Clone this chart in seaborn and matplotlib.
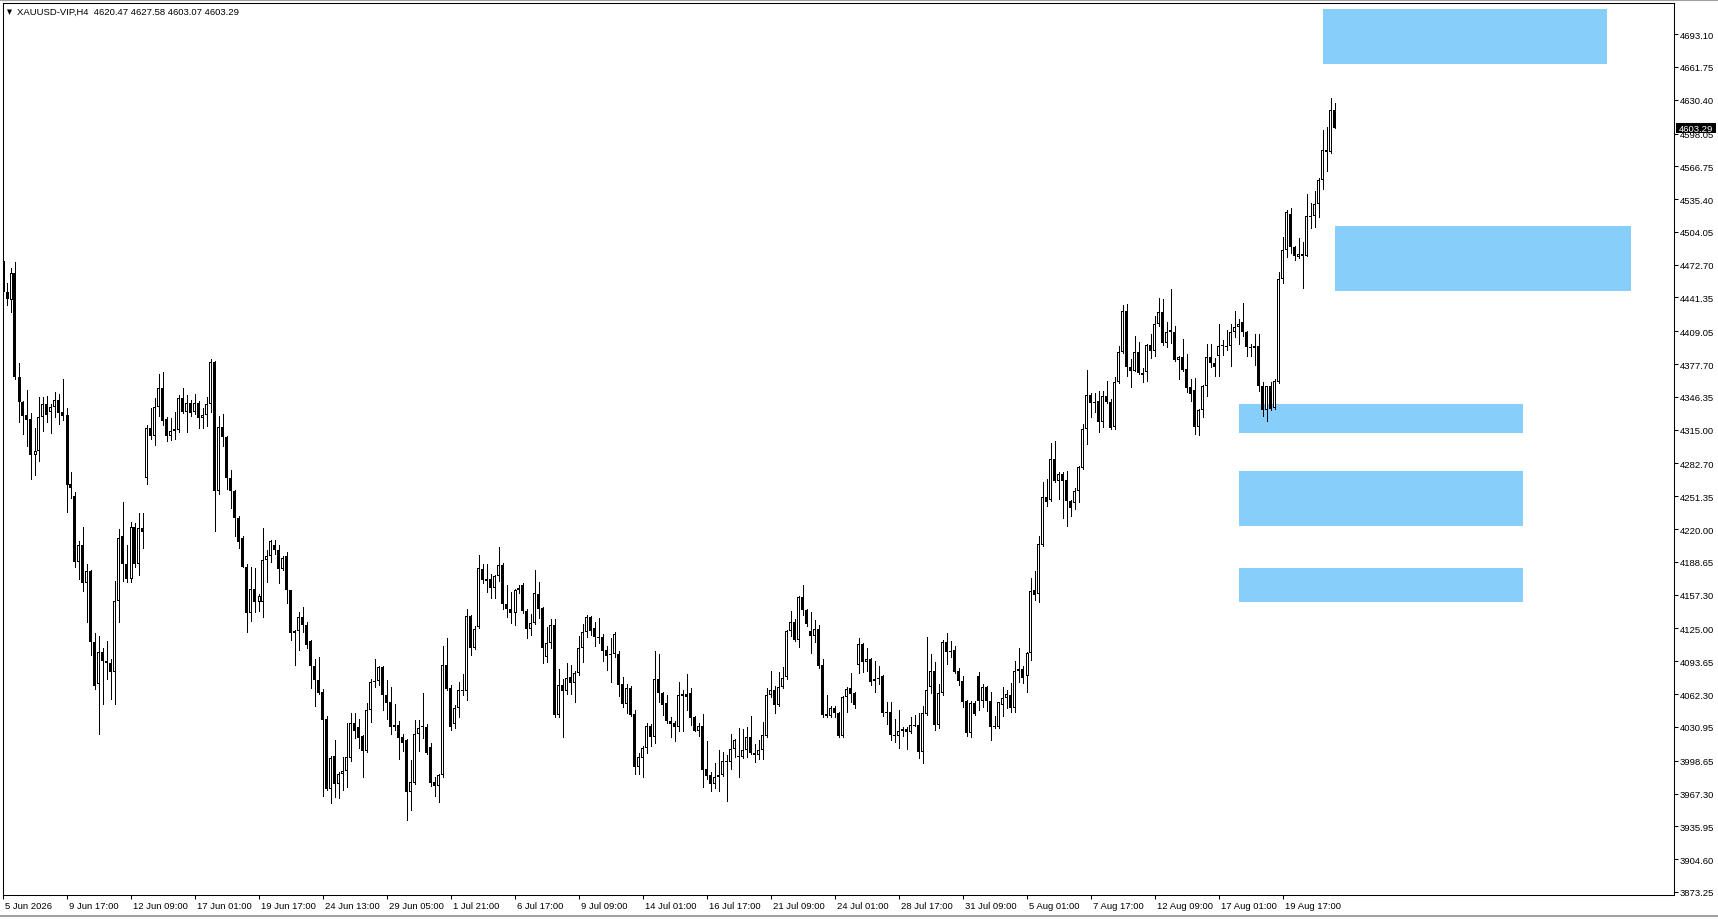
import matplotlib
matplotlib.use('Agg')
import matplotlib.pyplot as plt
import matplotlib.transforms as mtransforms
from matplotlib.patches import Rectangle
from matplotlib.lines import Line2D
import numpy as np
import pandas as pd
import seaborn as sns

# Chart header
symbol_title = 'XAUUSD-VIP,H4  4620.47 4627.58 4603.07 4603.29'
last_price = 4603.29

# H4 candles (one value per bar, oldest first)
opens = [
    4476.5, 4446.9, 4439.3, 4464.4, 4365.0, 4341.1, 4329.4, 4325.2, 4291.1, 4294.3,
    4326.8, 4339.6, 4332.2, 4336.4, 4343.4, 4332.2, 4329.0, 4263.1, 4251.3, 4188.2,
    4204.8, 4168.2, 4179.9, 4111.8, 4071.9, 4102.2, 4093.9, 4091.7, 4083.1, 4151.6,
    4213.1, 4186.6, 4172.3, 4221.7, 4186.6, 4220.7, 4268.5, 4316.3, 4309.3, 4336.4,
    4354.5, 4325.2, 4309.3, 4313.4, 4315.0, 4345.0, 4331.6, 4340.2, 4332.2, 4340.2,
    4325.9, 4329.0, 4339.6, 4379.4, 4256.7, 4317.3, 4307.7, 4268.5, 4256.1, 4230.3,
    4211.2, 4184.1, 4139.5, 4162.7, 4150.6, 4150.6, 4190.8, 4194.0, 4204.5, 4199.7,
    4182.2, 4194.0, 4161.5, 4122.6, 4122.3, 4136.0, 4128.0, 4112.7, 4088.8, 4075.4,
    4064.3, 4038.2, 3971.9, 4002.8, 3976.7, 3986.3, 3988.5, 4001.6, 4034.7, 4030.9,
    4021.9, 4007.6, 4046.8, 4073.5, 4074.5, 4088.2, 4061.1, 4054.7, 4033.1, 4033.1,
    4021.3, 4018.7, 3968.7, 3977.6, 4023.8, 4030.4, 4030.9, 4011.7, 3978.3, 3974.1,
    3984.7, 4089.8, 4068.1, 4034.0, 4049.3, 4066.5, 4064.9, 4137.0, 4106.7, 4126.4,
    4181.6, 4172.6, 4172.6, 4163.7, 4175.2, 4185.4, 4148.1, 4144.0, 4140.1, 4161.5,
    4166.3, 4141.4, 4124.2, 4130.6, 4158.3, 4144.5, 4097.4, 4110.8, 4128.3, 4042.3,
    4071.0, 4065.5, 4078.3, 4072.5, 4082.1, 4106.0, 4121.3, 4136.2, 4125.1, 4116.5,
    4116.5, 4104.4, 4100.6, 4100.6, 4100.6, 4071.9, 4052.8, 4068.1, 4043.2, 3992.9,
    4000.8, 4010.7, 4031.4, 4021.5, 4076.7, 4063.0, 4053.4, 4036.8, 4034.6, 4030.5,
    4062.3, 4062.3, 4063.3, 4040.0, 4027.3, 4032.1, 3990.6, 3984.9, 3976.3, 3982.7,
    3984.9, 3998.0, 3997.0, 4009.8, 4002.4, 4001.8, 4008.8, 4021.5, 4005.6, 4004.3,
    4008.8, 4022.5, 4061.4, 4066.2, 4052.1, 4068.7, 4078.9, 4122.2, 4130.8, 4114.3,
    4155.4, 4142.6, 4122.9, 4117.5, 4124.5, 4090.1, 4043.2, 4041.6, 4049.0, 4043.9,
    4022.5, 4059.2, 4068.1, 4063.3, 4090.4, 4110.2, 4092.6, 4095.8, 4074.5, 4076.7,
    4079.2, 4044.8, 4044.8, 4023.5, 4022.2, 4028.9, 4028.9, 4025.7, 4033.0, 4032.7,
    4007.2, 4043.2, 4068.7, 4084.0, 4033.0, 4063.0, 4112.4, 4103.1, 4104.4, 4084.0,
    4074.5, 4055.4, 4025.1, 4053.8, 4079.2, 4056.0, 4068.7, 4055.4, 4032.1, 4030.5,
    4052.2, 4058.2, 4061.7, 4049.0, 4084.0, 4086.3, 4079.2, 4101.5, 4161.8, 4157.9,
    4205.1, 4250.3, 4248.1, 4287.0, 4266.3, 4272.6, 4266.9, 4246.5, 4244.9, 4256.1,
    4278.0, 4315.6, 4348.1, 4341.8, 4342.1, 4322.0, 4346.9, 4341.1, 4317.2, 4360.3,
    4388.9, 4428.8, 4374.6, 4371.4, 4388.9, 4369.2, 4370.0, 4395.9, 4390.5, 4416.0,
    4427.2, 4397.5, 4410.3, 4408.0, 4381.6, 4384.1, 4373.0, 4355.5, 4352.9, 4317.9,
    4333.8, 4356.4, 4384.1, 4378.4, 4385.7, 4395.3, 4393.7, 4394.7, 4408.0, 4412.8,
    4417.6, 4408.0, 4393.7, 4392.7, 4394.7, 4357.1, 4334.1, 4356.4, 4335.4, 4360.9,
    4459.0, 4486.7, 4521.1, 4489.3, 4480.4, 4482.9, 4481.3, 4519.6, 4518.9, 4530.7,
    4553.6, 4582.3, 4580.1, 4620.47,
]
highs = [
    4481.3, 4454.9, 4469.5, 4474.9, 4378.4, 4342.7, 4352.9, 4331.0, 4316.6, 4345.9,
    4345.9, 4347.5, 4339.6, 4350.7, 4349.1, 4363.4, 4335.4, 4274.2, 4255.8, 4208.6,
    4221.7, 4186.6, 4180.9, 4120.7, 4117.5, 4106.0, 4113.3, 4095.8, 4170.7, 4220.1,
    4245.6, 4204.8, 4226.4, 4225.8, 4235.4, 4235.4, 4319.8, 4335.7, 4345.3, 4368.2,
    4370.5, 4326.8, 4326.2, 4332.2, 4348.5, 4354.5, 4348.5, 4343.4, 4349.1, 4342.7,
    4335.7, 4345.9, 4382.6, 4380.5, 4328.4, 4330.0, 4309.0, 4276.5, 4257.7, 4232.8,
    4213.7, 4186.6, 4183.4, 4182.5, 4158.0, 4220.7, 4200.0, 4209.9, 4209.3, 4205.0,
    4194.0, 4198.1, 4162.1, 4123.2, 4140.5, 4145.6, 4131.2, 4113.7, 4095.5, 4097.8,
    4067.5, 4041.1, 4002.8, 4018.7, 3987.8, 4002.2, 4034.7, 4044.6, 4044.6, 4038.8,
    4022.9, 4054.1, 4076.4, 4095.5, 4088.8, 4088.8, 4075.4, 4069.1, 4053.2, 4036.3,
    4023.8, 4019.7, 3999.0, 4037.2, 4037.2, 4063.4, 4033.4, 4015.6, 3983.1, 3985.6,
    4108.3, 4115.9, 4070.7, 4051.6, 4073.9, 4081.2, 4144.0, 4138.2, 4127.4, 4194.9,
    4187.0, 4187.0, 4177.4, 4175.8, 4203.0, 4187.9, 4166.3, 4159.9, 4163.1, 4166.3,
    4168.5, 4143.9, 4139.2, 4180.6, 4169.4, 4146.0, 4126.7, 4134.0, 4134.0, 4086.2,
    4076.7, 4091.9, 4090.0, 4084.6, 4117.5, 4129.2, 4138.2, 4137.0, 4130.8, 4135.0,
    4119.7, 4108.5, 4115.9, 4121.3, 4103.1, 4078.3, 4071.9, 4070.3, 4047.0, 4006.0,
    4012.9, 4034.3, 4033.7, 4103.1, 4100.6, 4064.0, 4061.7, 4040.0, 4036.8, 4073.5,
    4066.5, 4081.4, 4068.1, 4041.0, 4034.6, 4043.2, 4017.7, 3987.5, 3996.4, 4008.8,
    4006.6, 4004.0, 4024.1, 4019.3, 4029.5, 4028.9, 4030.5, 4041.6, 4014.5, 4018.4,
    4035.9, 4068.1, 4084.6, 4070.3, 4083.0, 4087.8, 4123.5, 4142.0, 4134.0, 4156.3,
    4166.5, 4144.0, 4141.1, 4133.1, 4128.3, 4095.8, 4061.4, 4051.2, 4051.2, 4044.8,
    4060.8, 4069.4, 4082.4, 4064.0, 4115.9, 4111.1, 4106.3, 4097.0, 4094.2, 4088.8,
    4080.5, 4054.4, 4055.0, 4038.5, 4047.1, 4031.1, 4030.5, 4040.1, 4042.6, 4044.2,
    4051.2, 4116.5, 4100.6, 4093.3, 4071.9, 4114.3, 4120.6, 4112.7, 4108.6, 4086.9,
    4079.2, 4056.6, 4055.4, 4056.0, 4083.7, 4071.9, 4070.3, 4063.9, 4041.0, 4055.0,
    4068.7, 4066.2, 4072.9, 4093.6, 4106.0, 4089.4, 4102.8, 4172.9, 4180.2, 4213.0,
    4265.3, 4267.9, 4302.3, 4304.5, 4274.2, 4274.2, 4275.2, 4248.1, 4258.9, 4280.6,
    4320.4, 4372.4, 4349.7, 4349.7, 4352.3, 4351.6, 4361.2, 4344.3, 4365.0, 4394.7,
    4434.2, 4435.1, 4382.6, 4404.2, 4398.5, 4374.0, 4396.9, 4406.5, 4423.3, 4440.9,
    4439.9, 4417.6, 4449.5, 4414.4, 4385.7, 4401.7, 4387.3, 4363.4, 4364.1, 4334.8,
    4358.0, 4396.9, 4396.9, 4383.5, 4416.0, 4400.7, 4410.6, 4416.0, 4428.1, 4420.8,
    4436.1, 4409.0, 4396.9, 4406.5, 4406.5, 4360.3, 4357.1, 4360.9, 4363.4, 4465.4,
    4498.8, 4525.0, 4526.9, 4490.9, 4498.2, 4494.7, 4540.3, 4531.7, 4543.4, 4555.6,
    4601.4, 4604.6, 4632.0, 4627.58,
]
lows = [
    4443.1, 4434.2, 4427.8, 4363.0, 4322.7, 4310.9, 4299.7, 4267.9, 4271.7, 4285.4,
    4314.1, 4322.7, 4311.8, 4326.8, 4320.4, 4324.6, 4236.0, 4249.4, 4183.4, 4172.3,
    4161.1, 4130.9, 4099.6, 4067.2, 4024.1, 4052.8, 4076.7, 4057.6, 4052.8, 4130.9,
    4170.7, 4169.1, 4169.7, 4183.4, 4176.1, 4201.6, 4263.1, 4306.1, 4300.7, 4328.4,
    4319.5, 4304.5, 4305.5, 4306.1, 4312.5, 4331.0, 4312.5, 4328.4, 4330.0, 4316.6,
    4316.6, 4318.8, 4332.2, 4218.5, 4253.5, 4299.7, 4258.3, 4239.8, 4213.7, 4201.6,
    4183.4, 4121.3, 4132.5, 4141.1, 4142.0, 4136.3, 4169.7, 4188.2, 4196.5, 4168.5,
    4181.2, 4149.4, 4114.3, 4090.4, 4104.8, 4121.7, 4106.4, 4068.5, 4050.6, 4062.5,
    3964.6, 3970.5, 3958.5, 3963.9, 3963.3, 3971.0, 3973.5, 3998.4, 4020.7, 4011.1,
    3983.1, 4007.0, 4035.6, 4069.1, 4070.7, 4047.4, 4038.8, 4024.5, 4028.3, 4000.6,
    4007.9, 3942.3, 3951.2, 3976.5, 4007.9, 4020.7, 4005.0, 3974.1, 3964.6, 3959.2,
    3983.1, 4066.5, 4028.3, 4029.9, 4040.4, 4061.1, 4057.0, 4100.0, 4105.7, 4125.0,
    4168.5, 4159.9, 4154.2, 4154.5, 4170.1, 4143.3, 4136.0, 4130.6, 4128.0, 4158.9,
    4140.0, 4116.2, 4119.1, 4129.5, 4135.4, 4091.6, 4093.2, 4106.0, 4040.7, 4040.0,
    4021.5, 4062.3, 4062.3, 4054.4, 4080.5, 4093.2, 4116.5, 4119.0, 4108.5, 4111.1,
    4094.2, 4085.3, 4073.5, 4097.4, 4060.7, 4050.2, 4043.9, 4041.6, 3985.9, 3985.9,
    3983.3, 4005.6, 4012.9, 4015.2, 4054.4, 4042.6, 4034.3, 4021.5, 4017.1, 4026.7,
    4026.7, 4047.4, 4032.7, 4026.7, 4022.5, 3973.1, 3981.1, 3969.3, 3972.2, 3969.9,
    3984.3, 3959.7, 3990.6, 4001.8, 3982.7, 4000.8, 4001.8, 4005.0, 3997.6, 4000.2,
    4000.2, 4021.5, 4059.1, 4043.9, 4051.2, 4067.8, 4076.7, 4118.1, 4113.0, 4106.9,
    4137.8, 4127.6, 4101.2, 4111.7, 4086.9, 4040.1, 4040.1, 4040.1, 4040.1, 4021.6,
    4021.5, 4044.8, 4055.0, 4048.7, 4082.4, 4083.7, 4084.7, 4071.0, 4064.6, 4071.9,
    4041.0, 4033.7, 4018.7, 4016.8, 4010.7, 4021.9, 4009.8, 4025.1, 4031.5, 4001.2,
    3996.1, 4042.3, 4063.0, 4028.3, 4029.9, 4061.7, 4091.0, 4098.0, 4082.4, 4071.3,
    4050.3, 4021.9, 4020.9, 4042.3, 4047.1, 4050.3, 4046.4, 4018.7, 4029.5, 4029.5,
    4041.7, 4048.7, 4045.5, 4045.5, 4074.2, 4072.9, 4064.6, 4095.2, 4152.5, 4150.0,
    4204.1, 4242.4, 4247.1, 4265.0, 4248.7, 4230.3, 4223.3, 4232.8, 4239.2, 4245.6,
    4277.0, 4301.3, 4326.8, 4331.6, 4313.1, 4317.2, 4340.2, 4315.5, 4316.0, 4359.3,
    4388.0, 4366.6, 4356.1, 4370.8, 4368.0, 4360.3, 4361.9, 4383.2, 4385.1, 4414.4,
    4396.3, 4393.7, 4397.5, 4380.3, 4363.4, 4370.8, 4350.7, 4342.7, 4310.9, 4310.2,
    4327.4, 4347.5, 4375.2, 4366.6, 4366.6, 4386.7, 4391.5, 4376.2, 4403.3, 4396.9,
    4404.2, 4385.7, 4385.7, 4377.1, 4351.7, 4328.4, 4323.6, 4333.8, 4334.8, 4359.3,
    4454.9, 4479.7, 4483.6, 4477.5, 4479.1, 4450.1, 4480.7, 4507.4, 4508.4, 4518.0,
    4545.0, 4562.6, 4579.4, 4603.07,
]
closes = [
    4446.3, 4439.9, 4464.4, 4365.0, 4341.1, 4327.8, 4324.6, 4291.1, 4294.9, 4326.8,
    4339.6, 4329.4, 4336.4, 4343.4, 4331.0, 4328.4, 4262.4, 4259.3, 4188.2, 4204.8,
    4168.2, 4179.9, 4111.8, 4070.3, 4102.2, 4094.2, 4091.7, 4083.1, 4151.6, 4211.5,
    4186.6, 4172.3, 4221.7, 4186.6, 4221.0, 4217.5, 4316.3, 4309.3, 4336.4, 4354.5,
    4323.6, 4308.6, 4313.4, 4315.7, 4345.3, 4331.6, 4340.2, 4331.0, 4340.2, 4325.9,
    4329.0, 4339.6, 4379.4, 4256.7, 4317.3, 4307.7, 4268.5, 4256.1, 4230.3, 4208.0,
    4184.1, 4139.5, 4162.7, 4150.6, 4156.4, 4190.8, 4194.0, 4208.3, 4199.7, 4182.2,
    4192.4, 4161.5, 4121.0, 4121.0, 4136.0, 4128.0, 4109.6, 4088.8, 4075.4, 4063.7,
    4037.9, 3971.9, 4001.2, 3976.7, 3986.3, 3988.5, 4002.2, 4034.7, 4026.7, 4020.7,
    4007.6, 4046.8, 4073.9, 4074.8, 4088.2, 4061.1, 4054.1, 4030.9, 4030.9, 4020.3,
    4015.6, 3968.7, 3978.3, 4023.8, 4029.9, 4030.9, 4006.3, 3977.6, 3974.1, 3984.7,
    4089.8, 4066.9, 4030.9, 4049.3, 4066.5, 4064.9, 4137.0, 4106.7, 4124.8, 4182.8,
    4171.0, 4170.4, 4163.7, 4175.2, 4185.4, 4148.1, 4143.3, 4140.1, 4161.5, 4164.0,
    4141.4, 4124.2, 4130.6, 4158.9, 4143.9, 4106.0, 4110.8, 4128.3, 4042.3, 4071.0,
    4065.5, 4077.3, 4072.5, 4082.1, 4106.0, 4121.3, 4136.2, 4122.9, 4116.5, 4115.9,
    4103.7, 4099.0, 4099.6, 4119.7, 4071.3, 4052.8, 4068.1, 4042.3, 3992.9, 4001.8,
    4010.7, 4031.4, 4021.5, 4076.7, 4063.0, 4052.1, 4036.8, 4033.7, 4030.5, 4061.4,
    4060.7, 4059.8, 4039.1, 4027.3, 4031.4, 3990.0, 3984.3, 3976.3, 3982.7, 3984.9,
    3998.0, 3997.0, 4009.8, 4018.4, 4001.8, 4008.8, 4021.5, 4005.6, 4004.3, 4008.8,
    4023.1, 4061.4, 4066.2, 4052.1, 4068.7, 4077.6, 4122.2, 4130.8, 4114.3, 4155.4,
    4142.6, 4129.2, 4117.5, 4124.5, 4089.5, 4042.3, 4041.6, 4049.0, 4043.9, 4022.5,
    4059.2, 4067.1, 4062.4, 4052.2, 4110.2, 4092.6, 4095.8, 4074.2, 4076.7, 4076.4,
    4044.2, 4044.2, 4023.5, 4022.2, 4027.3, 4027.3, 4025.7, 4032.7, 4032.1, 4006.6,
    4044.2, 4066.2, 4084.0, 4033.0, 4063.0, 4112.4, 4102.2, 4102.2, 4083.7, 4074.5,
    4055.0, 4025.1, 4053.8, 4043.2, 4056.0, 4068.7, 4055.4, 4031.1, 4030.5, 4054.4,
    4058.5, 4062.4, 4049.0, 4084.0, 4086.3, 4077.3, 4101.5, 4161.1, 4157.3, 4205.7,
    4250.3, 4245.6, 4287.0, 4266.3, 4272.6, 4266.3, 4246.5, 4239.8, 4256.1, 4279.0,
    4315.6, 4348.1, 4340.2, 4340.2, 4322.0, 4346.9, 4341.1, 4316.6, 4360.3, 4388.9,
    4428.8, 4374.6, 4371.4, 4388.9, 4368.9, 4367.6, 4395.9, 4390.5, 4416.0, 4427.2,
    4397.5, 4408.0, 4408.0, 4381.6, 4384.1, 4372.1, 4354.8, 4349.1, 4317.9, 4333.8,
    4356.4, 4384.1, 4378.4, 4375.2, 4395.3, 4394.7, 4394.7, 4408.0, 4412.8, 4416.0,
    4408.0, 4393.7, 4392.7, 4394.7, 4357.1, 4334.1, 4356.4, 4334.8, 4361.9, 4459.0,
    4486.7, 4523.4, 4489.3, 4480.7, 4482.6, 4480.7, 4518.9, 4517.9, 4530.7, 4553.6,
    4582.3, 4580.1, 4620.6, 4603.29,
]

# time axis labels (one every 16 bars)
time_labels = ['5 Jun 2026', '9 Jun 17:00', '12 Jun 09:00', '17 Jun 01:00', '19 Jun 17:00',
               '24 Jun 13:00', '29 Jun 05:00', '1 Jul 21:00', '6 Jul 17:00', '9 Jul 09:00',
               '14 Jul 01:00', '16 Jul 17:00', '21 Jul 09:00', '24 Jul 01:00', '28 Jul 17:00',
               '31 Jul 09:00', '5 Aug 01:00', '7 Aug 17:00', '12 Aug 09:00', '17 Aug 01:00',
               '19 Aug 17:00']
label_step = 16

# price scale labels
price_ticks = [4693.10, 4661.75, 4630.40, 4598.05, 4566.75, 4535.40, 4504.05, 4472.70,
               4441.35, 4409.05, 4377.70, 4346.35, 4315.00, 4282.70, 4251.35, 4220.00,
               4188.65, 4157.30, 4125.00, 4093.65, 4062.30, 4030.95, 3998.65, 3967.30,
               3935.95, 3904.60, 3873.25]

# supply / demand zones: first bar, last bar, top price, bottom price
zone_start = [330, 333, 309, 309, 309]
zone_end = [401, 407, 380, 380, 380]
zone_top = [4717.0, 4509.9, 4339.2, 4275.2, 4183.1]
zone_bottom = [4664.8, 4447.1, 4311.9, 4222.9, 4150.7]

W, H = 1718, 920
y_lo, y_hi = 3870.3, 4722.8
px = (y_hi - y_lo) / 892  # price units per screen pixel

df = pd.DataFrame({'open': opens, 'high': highs, 'low': lows, 'close': closes})
df['bar'] = np.arange(len(df))
df['up'] = df['close'] >= df['open']
df['body_lo'] = df[['open', 'close']].min(axis=1)
df['body_h'] = (df['close'] - df['open']).abs()

sns.set_style('white')
plt.rcParams['font.family'] = ['Liberation Sans', 'DejaVu Sans']

fig = plt.figure(figsize=(W / 100, H / 100), dpi=100)
ax = fig.add_axes([2.7 / W, 1 - 896 / H, (1674 - 2.7) / W, (896 - 4) / H])

# zones behind the candles
for s, e, t, b in zip(zone_start, zone_end, zone_top, zone_bottom):
    ax.add_patch(Rectangle((s, b), e - s, t - b, facecolor='#87CEFA', edgecolor='none',
                           zorder=1))

# wicks
ax.vlines(df['bar'], df['low'], df['high'], color='black', linewidth=0.72,
          antialiased=False, zorder=2)
# bodies: solid black block, then a white core for bullish bars
ax.bar(df['bar'], np.maximum(df['body_h'], px), bottom=df['body_lo'], width=0.75,
       color='black', linewidth=0, antialiased=False, zorder=3)
hollow = df[df['up'] & (df['body_h'] > 2 * px)]
ax.bar(hollow['bar'], hollow['body_h'] - 2 * px, bottom=hollow['body_lo'] + px,
       width=0.25, color='white', linewidth=0, antialiased=False, zorder=4)

ax.set_xlim(-0.075, 417.75)
ax.set_ylim(y_lo, y_hi)

for sp in ax.spines.values():
    sp.set_color('black')
    sp.set_linewidth(0.75)
    sp.set_visible(True)

ax.yaxis.tick_right()
ax.set_yticks(price_ticks)
ax.set_yticklabels([f'{v:.2f}' for v in price_ticks])
ax.set_xticks(np.arange(len(time_labels)) * label_step)
ax.set_xticklabels(time_labels)
ax.tick_params(axis='both', direction='out', length=2.9, width=0.75, colors='black',
               labelsize=6.8, labelcolor='black')
ax.tick_params(axis='y', pad=1.4, left=False, right=True)
ax.tick_params(axis='x', pad=1.2, bottom=True)
offset = mtransforms.ScaledTranslation(2 / 100, 0, fig.dpi_scale_trans)
for lbl in ax.get_xticklabels():
    lbl.set_horizontalalignment('left')
    lbl.set_transform(lbl.get_transform() + offset)
ax.set_xlabel('')
ax.set_ylabel('')

# current price marker on the price scale
blend = mtransforms.blended_transform_factory(fig.transFigure, ax.transData)
box_h = 10 * px
ax.add_patch(Rectangle((1675.5 / W, last_price - box_h / 2), 40 / W, box_h,
                       transform=blend, facecolor='black', edgecolor='none',
                       clip_on=False, zorder=10))
ax.text(1678.5 / W, last_price, f'{last_price:.2f}', transform=blend, color='white',
        fontsize=6.8, ha='left', va='center', clip_on=False, zorder=11)

# header
fig.text(7 / W, 1 - 12.5 / H, '\u25bc', fontsize=4.7, family='DejaVu Sans',
         ha='left', va='center', color='black')
fig.text(17 / W, 1 - 12.5 / H, symbol_title, fontsize=6.8, ha='left', va='center',
         color='black')

# window frame lines
fig.add_artist(Line2D([0, 1], [1 - 1 / H, 1 - 1 / H], color='#a0a0a0', linewidth=1.5))
fig.add_artist(Line2D([0, 1], [1 - 917 / H, 1 - 917 / H], color='#a0a0a0', linewidth=1.5))

fig.savefig('out.png', dpi=100, facecolor='white')
